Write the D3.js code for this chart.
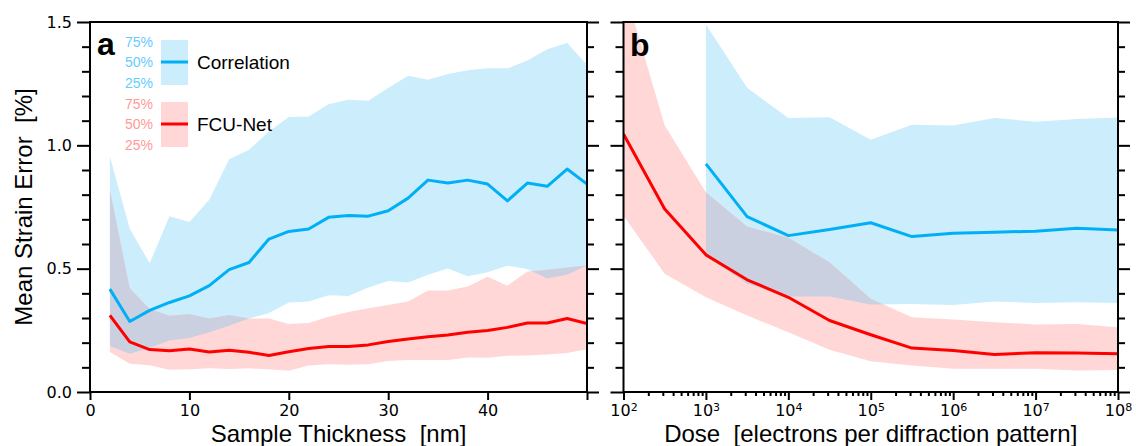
<!DOCTYPE html>
<html>
<head>
<meta charset="utf-8">
<script src="https://cdn.jsdelivr.net/npm/d3@7"></script>
<style>
  body { margin: 0; background: #fff; }
  svg text { white-space: pre; }
</style>
</head>
<body>
<div id="chart"></div>
<script>
// ---- data, panel a (sample thickness, nm) ----
const thickness = [2,4,6,8,10,12,14,16,18,20,22,24,26,28,30,32,34,36,38,40,42,44,46,48,50];
const corrMedA  = [0.417,0.286,0.331,0.363,0.390,0.431,0.496,0.525,0.620,0.651,0.661,0.708,0.716,0.713,0.735,0.786,0.859,0.847,0.859,0.843,0.775,0.847,0.834,0.904,0.843];
const corrHiA   = [0.955,0.662,0.522,0.712,0.689,0.779,0.944,0.982,1.056,1.115,1.117,1.167,1.185,1.181,1.232,1.282,1.266,1.289,1.304,1.312,1.312,1.344,1.390,1.415,1.327];
const corrLoA   = [0.186,0.155,0.178,0.209,0.219,0.242,0.269,0.298,0.320,0.363,0.367,0.392,0.389,0.424,0.450,0.444,0.475,0.501,0.469,0.485,0.512,0.499,0.460,0.475,0.513];
const fcuMedA   = [0.311,0.203,0.172,0.167,0.174,0.162,0.169,0.161,0.148,0.163,0.176,0.184,0.184,0.191,0.205,0.215,0.224,0.231,0.242,0.249,0.262,0.280,0.280,0.298,0.277];
const fcuHiA    = [0.820,0.421,0.336,0.309,0.316,0.298,0.312,0.298,0.298,0.276,0.280,0.305,0.324,0.340,0.353,0.367,0.411,0.411,0.428,0.467,0.431,0.489,0.496,0.505,0.513];
const fcuLoA    = [0.162,0.115,0.108,0.090,0.092,0.096,0.093,0.096,0.092,0.086,0.107,0.112,0.110,0.112,0.126,0.130,0.130,0.130,0.140,0.139,0.147,0.148,0.152,0.158,0.173];

// ---- data, panel b (dose, electrons per diffraction pattern) ----
const dose      = [1e2,316,1e3,3162,1e4,31623,1e5,316228,1e6,3162278,1e7,31622777,1e8];
const corrMedB  = [null,null,0.925,0.711,0.634,0.659,0.686,0.630,0.644,0.648,0.652,0.664,0.657];
const corrHiB   = [null,null,1.490,1.233,1.111,1.114,1.023,1.083,1.080,1.111,1.096,1.107,1.113];
const corrLoB   = [null,null,0.555,0.439,0.387,0.387,0.355,0.357,0.353,0.367,0.361,0.364,0.361];
const fcuMedB   = [1.046,0.742,0.556,0.455,0.384,0.290,0.232,0.178,0.168,0.152,0.159,0.158,0.155];
const fcuHiB    = [1.650,1.080,0.810,0.671,0.625,0.526,0.378,0.303,0.294,0.283,0.274,0.276,0.263];
const fcuLoB    = [0.715,0.479,0.384,0.310,0.242,0.171,0.125,0.107,0.094,0.094,0.094,0.087,0.089];

// ---- ticks / labels ----
const yMajor = [0, 0.5, 1.0, 1.5];
const xMajorA = [0, 10, 20, 30, 40, 50];
const doseDecades = [1e2,1e3,1e4,1e5,1e6,1e7,1e8];
const legendPct = ["75%", "50%", "25%"];

const W = 1136, H = 446;
const plotTop = 22, plotBottom = 392;
const colBlue = "#00b0f6", colBlueBand = "#ccedfc", colBlueTxt = "#66ccff";
const colRed = "#ff0000", colRedBand = "#ffd7d7", colRedTxt = "#ff9999";
const colOverlap = "#cbd0e0";
const tickFont = "'DejaVu Sans', sans-serif";
const labelFont = "'Liberation Sans', Arial, sans-serif";

const svg = d3.select("#chart").append("svg").attr("width", W).attr("height", H);
const defs = svg.append("defs");

const y = d3.scaleLinear().domain([0, 1.5]).range([plotBottom, plotTop]);
const xA = d3.scaleLinear().domain([0, 50]).range([90, 587]);
const xB = d3.scaleLog().domain([1e2, 1e8]).range([623.5, 1118]);

function zipRows(xs, med, lo, hi) {
  return xs.map((x, i) => ({x: x, med: med[i], lo: lo[i], hi: hi[i]}));
}

function drawPanel(id, x, xs, corr, fcu) {
  const g = svg.append("g");
  const [x0, x1] = x.range();

  defs.append("clipPath").attr("id", "plot-" + id)
    .append("rect").attr("x", x0).attr("y", plotTop).attr("width", x1 - x0).attr("height", plotBottom - plotTop);

  const area = d3.area()
    .defined(d => d.lo != null)
    .x(d => x(d.x)).y0(d => y(d.lo)).y1(d => y(d.hi));
  const line = d3.line()
    .defined(d => d.med != null)
    .x(d => x(d.x)).y(d => y(d.med));

  const corrRows = zipRows(xs, corr[0], corr[1], corr[2]);
  const fcuRows = zipRows(xs, fcu[0], fcu[1], fcu[2]);

  defs.append("clipPath").attr("id", "corr-" + id)
    .append("path").attr("d", area(corrRows));

  const plot = g.append("g").attr("clip-path", "url(#plot-" + id + ")");
  plot.append("path").attr("d", area(corrRows)).attr("fill", colBlueBand);
  plot.append("path").attr("d", area(fcuRows)).attr("fill", colRedBand);
  // where both bands overlap
  plot.append("g").attr("clip-path", "url(#corr-" + id + ")")
    .append("path").attr("d", area(fcuRows)).attr("fill", colOverlap);

  plot.append("path").attr("d", line(corrRows)).attr("fill", "none")
    .attr("stroke", colBlue).attr("stroke-width", 3).attr("stroke-linejoin", "round");
  plot.append("path").attr("d", line(fcuRows)).attr("fill", "none")
    .attr("stroke", colRed).attr("stroke-width", 3).attr("stroke-linejoin", "round");

  // y ticks: left outward, right outward
  const yMinor = y.ticks(15).filter(v => !yMajor.some(m => Math.abs(m - v) < 1e-9));
  g.append("g").attr("transform", `translate(${x0},0)`)
    .call(d3.axisLeft(y).tickValues(yMinor).tickSize(8).tickFormat(""));
  g.append("g").attr("transform", `translate(${x1},0)`)
    .call(d3.axisRight(y).tickValues(yMinor).tickSize(7).tickFormat(""));
  g.append("g").attr("transform", `translate(${x0},0)`)
    .call(d3.axisLeft(y).tickValues(yMajor).tickSize(13).tickPadding(5)
      .tickFormat(id === "a" ? d3.format(".1f") : ""));
  g.append("g").attr("transform", `translate(${x1},0)`)
    .call(d3.axisRight(y).tickValues(yMajor).tickSize(12).tickFormat(""));

  // frame
  g.append("rect").attr("x", x0).attr("y", plotTop).attr("width", x1 - x0).attr("height", plotBottom - plotTop)
    .attr("fill", "none").attr("stroke", "#000").attr("stroke-width", 2);
  return g;
}

// ---- panel a ----
const ga = drawPanel("a", xA, thickness, [corrMedA, corrLoA, corrHiA], [fcuMedA, fcuLoA, fcuHiA]);
ga.append("g").attr("transform", `translate(0,${plotBottom})`)
  .call(d3.axisBottom(xA).tickValues(xMajorA).tickSize(8).tickPadding(5)
    .tickFormat(d => d === 50 ? "" : d));

// ---- panel b ----
const gb = drawPanel("b", xB, dose, [corrMedB, corrLoB, corrHiB], [fcuMedB, fcuLoB, fcuHiB]);
const minorDose = xB.ticks().filter(v => !doseDecades.includes(v));
gb.append("g").attr("transform", `translate(0,${plotBottom})`)
  .call(d3.axisBottom(xB).tickValues(minorDose).tickSize(4).tickFormat(""));
const xbAxis = gb.append("g").attr("transform", `translate(0,${plotBottom})`)
  .call(d3.axisBottom(xB).tickValues(doseDecades).tickSize(8).tickPadding(5).tickFormat(""));
xbAxis.selectAll(".tick text").each(function(d) {
  const t = d3.select(this);
  t.text("10");
  t.append("tspan").attr("dy", "-0.45em").text(Math.round(Math.log10(d)));
});

[ga, gb].forEach(g => {
  g.selectAll(".domain").remove();
  g.selectAll(".tick line").attr("stroke", "#000").attr("stroke-width", 2);
  g.selectAll(".tick text").attr("font-family", tickFont).attr("font-size", 16).attr("fill", "#000");
});
xbAxis.selectAll(".tick text tspan").attr("font-size", 11);

// ---- panel letters ----
svg.append("text").attr("x", 97).attr("y", 55).text("a")
  .attr("font-family", labelFont).attr("font-weight", "bold").attr("font-size", 32);
svg.append("text").attr("x", 630).attr("y", 56).text("b")
  .attr("font-family", labelFont).attr("font-weight", "bold").attr("font-size", 32);

// ---- axis titles ----
svg.append("text").attr("transform", `translate(32,${(plotTop + plotBottom) / 2}) rotate(-90)`)
  .attr("text-anchor", "middle").attr("font-family", labelFont).attr("font-size", 24)
  .text("Mean Strain Error  [%]");
svg.append("text").attr("x", (xA.range()[0] + xA.range()[1]) / 2).attr("y", 442)
  .attr("text-anchor", "middle").attr("font-family", labelFont).attr("font-size", 24)
  .text("Sample Thickness  [nm]");
svg.append("text").attr("x", (xB.range()[0] + xB.range()[1]) / 2).attr("y", 442)
  .attr("text-anchor", "middle").attr("font-family", labelFont).attr("font-size", 24)
  .text("Dose  [electrons per diffraction pattern]");

// ---- legend ----
const legend = svg.append("g");
const legendItems = [
  {name: "Correlation", band: colBlueBand, line: colBlue, txt: colBlueTxt, y0: 40},
  {name: "FCU-Net", band: colRedBand, line: colRed, txt: colRedTxt, y0: 102}
];
legendItems.forEach(it => {
  legend.append("rect").attr("x", 161).attr("y", it.y0).attr("width", 27).attr("height", 45).attr("fill", it.band);
  legend.append("line").attr("x1", 161).attr("x2", 188).attr("y1", it.y0 + 22).attr("y2", it.y0 + 22)
    .attr("stroke", it.line).attr("stroke-width", 3);
  legendPct.forEach((p, i) => {
    legend.append("text").attr("x", 153).attr("y", it.y0 + 6.5 + i * 20.5).attr("text-anchor", "end")
      .attr("font-family", labelFont).attr("font-size", 14).attr("fill", it.txt).text(p);
  });
  legend.append("text").attr("x", 197).attr("y", it.y0 + 28.5)
    .attr("font-family", labelFont).attr("font-size", 19).attr("fill", "#000").text(it.name);
});
</script>
</body>
</html>
